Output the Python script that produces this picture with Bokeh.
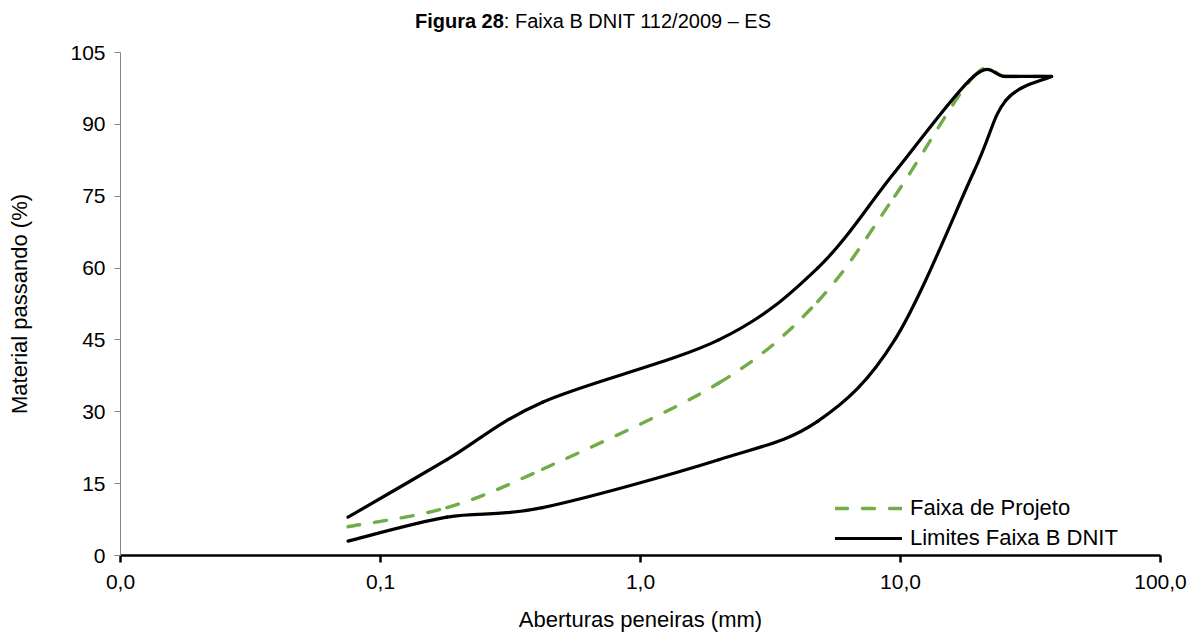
import numpy as np
from bokeh.plotting import figure
from bokeh.models import FixedTicker, Legend, LegendItem, ColumnDataSource, Div
from bokeh.layouts import column
from bokeh.embed import file_html
from bokeh.resources import INLINE

# ---- data ----
sizes_mm = [0.075, 0.18, 0.42, 2.0, 4.8, 9.5, 19.1, 25.4, 38.1]
projeto = [6, 10, 18, 36, 53, 75, 100, 100, 100]
limite_inferior = [3, 8, 10, 20, 28, 45, 80, 95, 100]
limite_superior = [8, 20, 32, 45, 60, 80, 100, 100, 100]
x_ticks = [0.01, 0.1, 1, 10, 100]
x_tick_labels = ["0,0", "0,1", "1,0", "10,0", "100,0"]
y_ticks = [0, 15, 30, 45, 60, 75, 90, 105]

FONT = "Liberation Sans"


def smooth_segments(xs, ys):
    """Catmull-Rom style Bezier control points (Excel 'smoothed line'),
    computed in log10(x) / linear y space."""
    lx = np.log10(np.asarray(xs, dtype=float))
    y = np.asarray(ys, dtype=float)
    n = len(lx)
    d = dict(x0=[], y0=[], x1=[], y1=[], cx0=[], cy0=[], cx1=[], cy1=[])
    for i in range(n - 1):
        pr = max(i - 1, 0)
        nx = min(i + 2, n - 1)
        c0x = lx[i] + (lx[i + 1] - lx[pr]) / 6
        c0y = y[i] + (y[i + 1] - y[pr]) / 6
        c1x = lx[i + 1] - (lx[nx] - lx[i]) / 6
        c1y = y[i + 1] - (y[nx] - y[i]) / 6
        d["x0"].append(10 ** lx[i]); d["y0"].append(y[i])
        d["x1"].append(10 ** lx[i + 1]); d["y1"].append(y[i + 1])
        d["cx0"].append(10 ** c0x); d["cy0"].append(c0y)
        d["cx1"].append(10 ** c1x); d["cy1"].append(c1y)
    return ColumnDataSource(d)


p = figure(width=1198, height=596, x_axis_type="log",
           x_range=(0.01, 100), y_range=(0, 105),
           output_backend="svg", toolbar_location=None,
           min_border_left=120, min_border_right=38,
           min_border_top=12, min_border_bottom=81)
p.outline_line_color = None
p.xgrid.visible = False
p.ygrid.visible = False
p.background_fill_color = "white"

GREEN = "#70AD47"
BZ = dict(x0="x0", y0="y0", x1="x1", y1="y1", cx0="cx0", cy0="cy0", cx1="cx1", cy1="cy1")
g_r = p.bezier(source=smooth_segments(sizes_mm, projeto),
               line_color=GREEN, line_width=3.4, line_dash="12 15", line_cap="round", **BZ)
bk = dict(line_color="black", line_width=3.2, line_cap="round", line_join="round")
b_lo = p.bezier(source=smooth_segments(sizes_mm, limite_inferior), **bk, **BZ)
b_hi = p.bezier(source=smooth_segments(sizes_mm, limite_superior), **bk, **BZ)

legend = Legend(items=[LegendItem(label="Faixa de Projeto", renderers=[g_r]),
                       LegendItem(label="Limites Faixa B DNIT", renderers=[b_lo, b_hi])],
                location=(715, 2), glyph_width=67, glyph_height=30, label_height=30,
                label_standoff=8, spacing=0, padding=0, margin=0,
                border_line_color=None, background_fill_alpha=0,
                label_text_font=FONT, label_text_font_size="22px", label_text_color="black")
p.add_layout(legend, "center")

# axes
p.xaxis.ticker = FixedTicker(ticks=x_ticks, minor_ticks=[])
p.xaxis.major_label_overrides = {t: l for t, l in zip(x_ticks, x_tick_labels)}
p.xaxis.axis_line_color = "black"
p.xaxis.axis_line_width = 2.5
p.xaxis.major_tick_line_color = "black"
p.xaxis.major_tick_line_width = 2.5
p.xaxis.major_tick_out = 7
p.xaxis.major_tick_in = 0
p.xaxis.minor_tick_line_color = None
p.xaxis.major_label_standoff = 12
p.xaxis.axis_label = "Aberturas peneiras (mm)"
p.xaxis.axis_label_standoff = 15

p.yaxis.ticker = FixedTicker(ticks=y_ticks, minor_ticks=[])
p.yaxis.axis_line_color = "#868686"
p.yaxis.axis_line_width = 1
p.yaxis.major_tick_line_color = "#868686"
p.yaxis.major_tick_out = 6
p.yaxis.major_tick_in = 0
p.yaxis.minor_tick_line_color = None
p.yaxis.major_label_standoff = 9
p.yaxis.axis_label = "Material passando (%)"
p.yaxis.axis_label_standoff = 35

for ax in (p.xaxis, p.yaxis):
    ax.major_label_text_font = FONT
    ax.major_label_text_font_size = "21px"
    ax.major_label_text_color = "black"
    ax.axis_label_text_font = FONT
    ax.axis_label_text_font_size = "22px"
    ax.axis_label_text_font_style = "normal"
    ax.axis_label_text_color = "black"

title = Div(text="<b>Figura 28</b>: Faixa B DNIT 112/2009 \u2013 ES",
            width=1198, height=40, margin=(0, 0, 0, 0),
            styles={"font-family": FONT, "font-size": "20px", "color": "black",
                    "text-align": "center", "padding-top": "10px",
                    "padding-right": "12px", "box-sizing": "border-box",
                    "line-height": "1.15"})

layout = column(title, p, spacing=0)
open("out.html", "w").write(file_html(layout, INLINE))
